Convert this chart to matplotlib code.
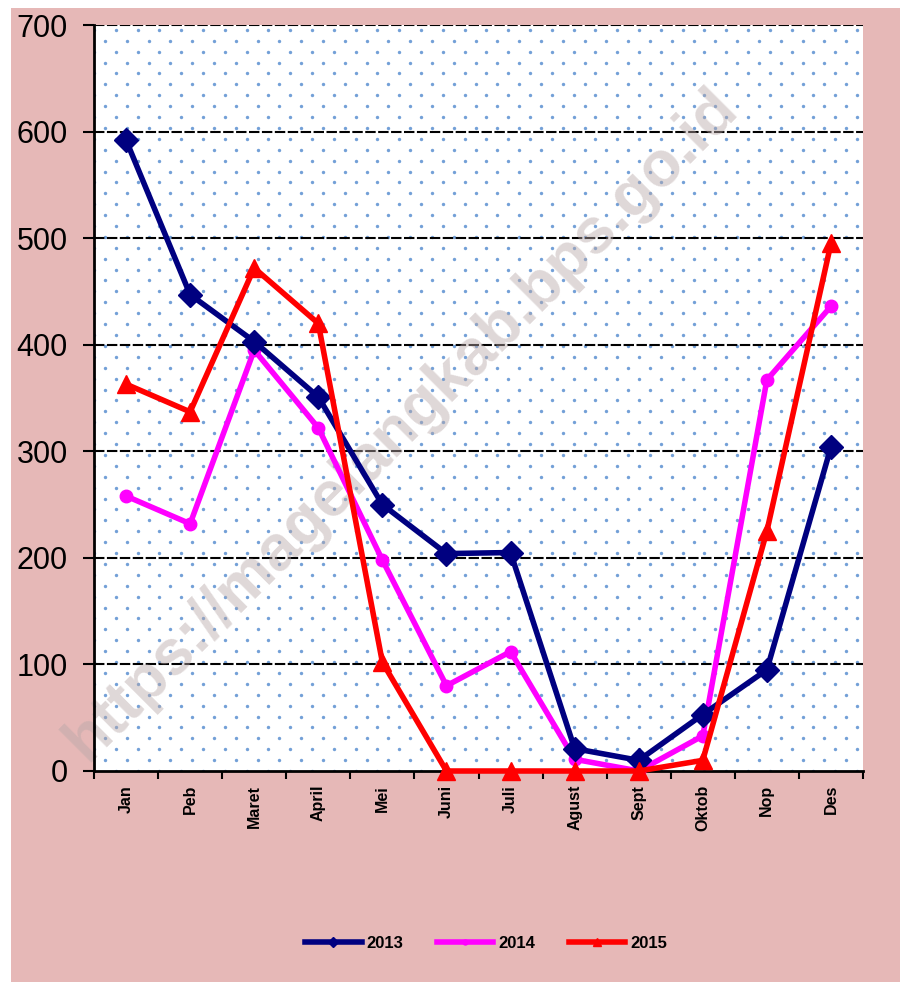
import numpy as np
import matplotlib.pyplot as plt
from matplotlib.patches import Rectangle

months = ['Jan', 'Peb', 'Maret', 'April', 'Mei', 'Juni', 'Juli',
          'Agust', 'Sept', 'Oktob', 'Nop', 'Des']
y2013 = [592, 447, 403, 351, 250, 204, 205, 21, 10, 53, 95, 304]
y2014 = [258, 232, 395, 322, 198, 80, 112, 11, 0, 33, 367, 436]
y2015 = [363, 337, 472, 420, 102, 0, 0, 0, 0, 10, 225, 495]
yticks = [0, 100, 200, 300, 400, 500, 600, 700]

pink = '#E6B8B7'
plt.rcParams['font.family'] = ['Liberation Sans', 'DejaVu Sans']

fig = plt.figure(figsize=(9, 9.82), dpi=100, facecolor='white')
fig.patches.append(Rectangle((11 / 900, 0), 1, 1 - 8 / 982,
                             transform=fig.transFigure, facecolor=pink,
                             edgecolor='none', zorder=-10))
ax = fig.add_axes([94 / 900, 1 - 771 / 982, (863 - 94) / 900, (771 - 25) / 982])
ax.set_facecolor('white')

# dotted background fill
w, h = 863 - 94, 771 - 25
gx, gy = np.meshgrid(np.arange(0, w + 1, 10.9), np.arange(0, h + 1, 10.9))
mask = ((gx / 10.9).round() + (gy / 10.9).round()) % 2 == 0
ax.scatter(gx[mask] / w, gy[mask] / h, s=6, color='#5B8FD0', alpha=0.85,
           transform=ax.transAxes, zorder=0, linewidths=0, clip_on=True)

x = np.arange(len(months))
for v in yticks[1:]:
    ax.axhline(v, color='black', lw=1.5, ls=(0, (5, 1.2)), zorder=1)

ax.text(0.40, 0.465, 'https://magelangkab.bps.go.id', transform=ax.transAxes,
        rotation=45, fontsize=46, fontweight='bold', color='#b8a8a8',
        alpha=0.45, ha='center', va='center', zorder=2)

ax.plot(x, y2013, color='#000080', lw=4, marker='D', ms=12, zorder=5,
        label='2013', clip_on=False)
ax.plot(x, y2014, color='#FF00FF', lw=4, marker='o', ms=9, zorder=4,
        label='2014', clip_on=False)
ax.plot(x, y2015, color='#FF0000', lw=4, marker='^', ms=13, zorder=6,
        label='2015', clip_on=False)

ax.set_xlim(-0.5, len(months) - 0.5)
ax.set_ylim(0, 700)
ax.set_yticks(yticks)
ax.tick_params(axis='y', labelsize=22, length=8, width=1.5, direction='out', pad=11)
ax.set_xticks(x)
ax.set_xticklabels(months, rotation=90, fontsize=11.5, fontweight='bold')
ax.set_xticks(np.arange(-0.5, len(months)), minor=True)
ax.tick_params(axis='x', which='major', length=0, pad=10)
ax.tick_params(axis='x', which='minor', length=6, width=1.5, direction='out')
for s in ['top', 'right']:
    ax.spines[s].set_visible(False)
for s in ['left', 'bottom']:
    ax.spines[s].set_linewidth(2)

handles, labels = ax.get_legend_handles_labels()
fig.legend(handles, labels, loc='center', bbox_to_anchor=(0.54, 1 - 943 / 982),
           ncol=3, frameon=False, prop={'weight': 'bold', 'size': 12},
           markerscale=0.4, handlelength=3.4, columnspacing=2.0, handletextpad=0.3)

fig.savefig('out.png', dpi=100, facecolor=fig.get_facecolor())
